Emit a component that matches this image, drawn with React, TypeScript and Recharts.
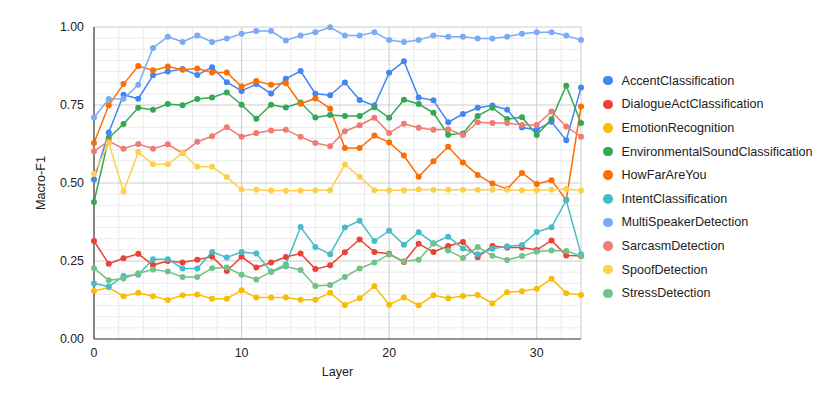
import { LineChart, Line, XAxis, YAxis, CartesianGrid } from "recharts";

const layers = [
  0, 1, 2, 3, 4, 5, 6, 7, 8, 9, 10, 11, 12, 13, 14, 15, 16, 17, 18, 19, 20, 21, 22, 23, 24, 25, 26,
  27, 28, 29, 30, 31, 32, 33,
];

const accent = [
  0.511, 0.662, 0.783, 0.77, 0.845, 0.857, 0.865, 0.846, 0.871, 0.823, 0.795, 0.817, 0.787, 0.834,
  0.859, 0.786, 0.781, 0.822, 0.766, 0.748, 0.853, 0.89, 0.774, 0.765, 0.695, 0.721, 0.741, 0.748,
  0.735, 0.678, 0.671, 0.696, 0.637, 0.806,
];
const dialogueAct = [
  0.314, 0.241, 0.259, 0.273, 0.237, 0.25, 0.245, 0.254, 0.264, 0.218, 0.264, 0.229, 0.245, 0.263,
  0.274, 0.224, 0.236, 0.278, 0.319, 0.279, 0.273, 0.247, 0.305, 0.279, 0.298, 0.311, 0.262, 0.298,
  0.293, 0.293, 0.285, 0.316, 0.268, 0.266,
];
const emotion = [
  0.154, 0.165, 0.137, 0.148, 0.137, 0.125, 0.14, 0.143, 0.129, 0.129, 0.156, 0.133, 0.133, 0.133,
  0.126, 0.126, 0.148, 0.109, 0.131, 0.169, 0.11, 0.133, 0.108, 0.14, 0.131, 0.138, 0.141, 0.114,
  0.15, 0.153, 0.161, 0.193, 0.147, 0.141,
];
const envSound = [
  0.439, 0.644, 0.689, 0.741, 0.735, 0.753, 0.749, 0.769, 0.774, 0.79, 0.751, 0.706, 0.751, 0.742,
  0.758, 0.71, 0.718, 0.715, 0.715, 0.743, 0.709, 0.767, 0.753, 0.725, 0.655, 0.659, 0.715, 0.741,
  0.705, 0.711, 0.654, 0.704, 0.812, 0.692,
];
const howFar = [
  0.628, 0.749, 0.817, 0.875, 0.861, 0.873, 0.863, 0.867, 0.854, 0.854, 0.809, 0.827, 0.815, 0.82,
  0.754, 0.771, 0.738, 0.612, 0.612, 0.652, 0.63, 0.588, 0.52, 0.57, 0.616, 0.566, 0.526, 0.498,
  0.481, 0.532, 0.497, 0.509, 0.446, 0.745,
];
const intent = [
  0.178, 0.168, 0.202, 0.206, 0.256, 0.256, 0.226, 0.226, 0.279, 0.261, 0.279, 0.274, 0.216, 0.239,
  0.359, 0.295, 0.272, 0.357, 0.379, 0.314, 0.347, 0.302, 0.342, 0.307, 0.328, 0.29, 0.272, 0.289,
  0.297, 0.301, 0.343, 0.358, 0.445, 0.272,
];
const multiSpeaker = [
  0.71, 0.769, 0.77, 0.815, 0.933, 0.969, 0.952, 0.973, 0.952, 0.963, 0.978, 0.987, 0.987, 0.957,
  0.973, 0.983, 0.999, 0.973, 0.973, 0.983, 0.958, 0.952, 0.958, 0.973, 0.969, 0.969, 0.963, 0.963,
  0.969, 0.978, 0.983, 0.983, 0.973, 0.958,
];
const sarcasm = [
  0.602, 0.634, 0.61, 0.625, 0.61, 0.624, 0.596, 0.632, 0.65, 0.679, 0.648, 0.66, 0.668, 0.671,
  0.648, 0.628, 0.618, 0.666, 0.685, 0.709, 0.66, 0.69, 0.677, 0.671, 0.672, 0.654, 0.695, 0.692,
  0.692, 0.686, 0.686, 0.729, 0.681, 0.648,
];
const spoof = [
  0.529, 0.628, 0.473, 0.599, 0.56, 0.56, 0.596, 0.552, 0.552, 0.519, 0.479, 0.478, 0.476, 0.475,
  0.476, 0.477, 0.477, 0.559, 0.52, 0.477, 0.477, 0.477, 0.479, 0.478, 0.478, 0.478, 0.478, 0.478,
  0.478, 0.477, 0.477, 0.478, 0.481, 0.476,
];
const stress = [
  0.227, 0.188, 0.194, 0.211, 0.223, 0.216, 0.199, 0.199, 0.227, 0.229, 0.206, 0.191, 0.215, 0.232,
  0.221, 0.17, 0.173, 0.199, 0.226, 0.245, 0.271, 0.249, 0.254, 0.306, 0.284, 0.26, 0.295, 0.267,
  0.253, 0.266, 0.28, 0.284, 0.282, 0.266,
];

const xTicks = [0, 10, 20, 30];
const yTicks = [0, 0.25, 0.5, 0.75, 1];

const SERIES = [
  { name: "AccentClassification", color: "#4285F4", values: accent },
  { name: "DialogueActClassification", color: "#EA4335", values: dialogueAct },
  { name: "EmotionRecognition", color: "#FBBC04", values: emotion },
  { name: "EnvironmentalSoundClassification", color: "#34A853", values: envSound },
  { name: "HowFarAreYou", color: "#FF6D01", values: howFar },
  { name: "IntentClassification", color: "#46BDC6", values: intent },
  { name: "MultiSpeakerDetection", color: "#7BAAF7", values: multiSpeaker },
  { name: "SarcasmDetection", color: "#F07B72", values: sarcasm },
  { name: "SpoofDetection", color: "#FCD04F", values: spoof },
  { name: "StressDetection", color: "#71C287", values: stress },
];

const X_MAX = 33;
const FONT = "Arial, 'Liberation Sans', sans-serif";

const chartData = layers.map((layer, i) => {
  const row: Record<string, number> = { layer };
  SERIES.forEach((s) => {
    row[s.name] = s.values[i];
  });
  return row;
});

// minor gridlines: 6 steps per 10 layers, 7 steps per 0.25
const minorX: number[] = [];
for (let k = 1; k * (5 / 3) < X_MAX; k++) if (k % 6 !== 0) minorX.push((k * 5) / 3);
const minorY: number[] = [];
for (let k = 1; k < 28; k++) if (k % 7 !== 0) minorY.push((k * 0.25) / 7);

function Legend() {
  return (
    <div style={{ position: "absolute", left: 0, top: 0 }}>
      {SERIES.map((s, i) => (
        <div
          key={s.name}
          style={{
            position: "absolute",
            left: 603,
            top: 80.7 + i * 23.63 - 8,
            height: 16,
            display: "flex",
            alignItems: "center",
            whiteSpace: "nowrap",
            fontSize: 12.6,
            color: "#222",
          }}
        >
          <span
            style={{
              width: 9.5,
              height: 9.5,
              borderRadius: "50%",
              background: s.color,
              display: "inline-block",
              marginRight: 9,
            }}
          />
          {s.name}
        </div>
      ))}
    </div>
  );
}

export default function App() {
  return (
    <div style={{ position: "relative", width: 830, height: 413, fontFamily: FONT, background: "#fff" }}>
      <style>{`body{margin:0}`}</style>
      <LineChart
        width={830}
        height={413}
        data={chartData}
        margin={{ top: 27, right: 249, bottom: 34, left: 34 }}
      >
        <CartesianGrid
          stroke="#ebebeb"
          verticalCoordinatesGenerator={({ offset }: any) =>
            minorX.map((v) => offset.left + (offset.width * v) / X_MAX)
          }
          horizontalCoordinatesGenerator={({ offset }: any) =>
            minorY.map((v) => offset.top + offset.height * (1 - v))
          }
        />
        <CartesianGrid stroke="#cccccc" />
        <XAxis
          dataKey="layer"
          type="number"
          domain={[0, X_MAX]}
          ticks={xTicks}
          height={40}
          tickLine={false}
          tickMargin={3}
          axisLine={{ stroke: "#444", strokeWidth: 1.2 }}
          tick={{ fill: "#222", fontSize: 12.4 }}
          label={{ value: "Layer", position: "insideBottom", offset: 3, fill: "#222", fontSize: 12.6 }}
        />
        <YAxis
          type="number"
          domain={[0, 1]}
          ticks={yTicks}
          width={60}
          tickLine={false}
          tickMargin={4}
          axisLine={{ stroke: "#444", strokeWidth: 1.2 }}
          tick={{ fill: "#222", fontSize: 12.4 }}
          tickFormatter={(v: number) => v.toFixed(2)}
          label={{
            value: "Macro-F1",
            angle: -90,
            position: "insideLeft",
            offset: 7,
            fill: "#222",
            fontSize: 12.6,
            style: { textAnchor: "middle" },
          }}
        />
        {SERIES.map((s) => (
          <Line
            key={s.name}
            type="linear"
            dataKey={s.name}
            stroke={s.color}
            strokeWidth={1.5}
            dot={{ r: 3, fill: s.color, stroke: "none" }}
            activeDot={false}
            isAnimationActive={false}
          />
        ))}
      </LineChart>
      <Legend />
    </div>
  );
}
